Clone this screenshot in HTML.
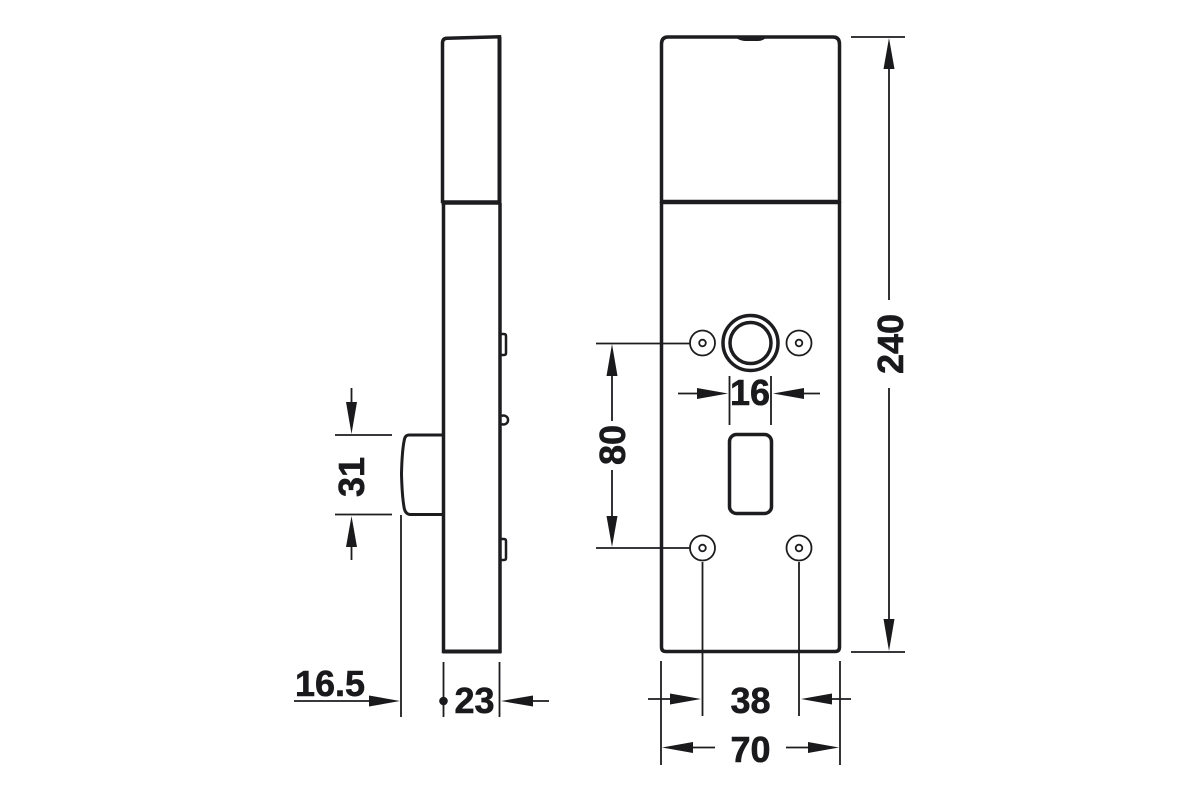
<!DOCTYPE html>
<html><head><meta charset="utf-8"><style>
html,body{margin:0;padding:0;background:#fff}
svg{display:block}
text{font-family:"Liberation Sans",sans-serif;font-weight:bold;font-size:36px;fill:#1a1a1c;stroke:#1a1a1c;stroke-width:.6px;text-anchor:middle}
</style></head><body>
<svg width="1200" height="800" viewBox="0 0 1200 800" xmlns="http://www.w3.org/2000/svg">
<rect width="1200" height="800" fill="#fff"/>
<g fill="none" stroke="#1d1d20" stroke-width="3.500">
<!-- side view -->
<path d="M442.500 203V43Q442.500 38.500 447 38.300L499.500 36.800V203" />
<path d="M499.500 37V203" stroke-width="4"/>
<path d="M441.500 202.500H501" stroke-width="4.500"/>
<path d="M443.500 203V651.500H500V203" />
<path d="M443 651.500H501" stroke-width="4"/>
<path d="M501 334H504Q506 334 506 336V353Q506 355 504 355H501M501 539H504Q506 539 506 541V558Q506 560 504 560H501" stroke-width="2.500"/>
<path d="M501.500 416A4.500 4.500 0 1 1 501.500 424" stroke-width="2.500"/>
<path d="M443 435H409Q405.500 435 404.500 439Q402 450 401.500 474Q402 495 404 507Q405 514 410 514.500H443" stroke-width="3"/>
<!-- front view -->
<path d="M661.500 203V44Q661.500 37 668 37H833Q839.500 37 839.500 44V203"/>
<path d="M661 202H840" stroke-width="4.500"/>
<path d="M661.500 202V647Q661.500 651.500 666 651.500H835Q839.500 651.500 839.500 647V202"/>
<path d="M737 38Q741 40.500 745 40.500H758Q762 40.500 765 38Z" fill="#1d1d20" stroke-width="1"/>
<circle cx="750.500" cy="343" r="27.500" stroke-width="3.500"/>
<circle cx="750.500" cy="343" r="20.500" stroke-width="3.500"/>
<rect x="729.500" y="434.500" width="42" height="79" rx="7" stroke-width="3.500"/>
</g>
<g fill="none" stroke="#1d1d20" stroke-width="1.800">
<circle cx="702.500" cy="343" r="12.500"/>
<circle cx="702.500" cy="343" r="3.300"/>
<circle cx="799" cy="343" r="12.500"/>
<circle cx="799" cy="343" r="3.300"/>
<circle cx="702.500" cy="548" r="12.500"/>
<circle cx="702.500" cy="548" r="3.300"/>
<circle cx="799" cy="548" r="12.500"/>
<circle cx="799" cy="548" r="3.300"/>
<!-- dimension lines -->
<path d="M335 435H392M335 514.500H392M351.500 388V405M351.500 530V560"/>
<path d="M401 515V717M443.500 662V717M499.500 662V717"/>
<path d="M294 701H372M530 701H549"/>
<path d="M596 343.500H690M596 548H690M612 372V421M612 470V520"/>
<path d="M729.500 376V425M771 376V425M678 393.500H700M801 393.500H820"/>
<path d="M702.500 562V716M799 562V716M661 661V765M840 661V765"/>
<path d="M648 699H673M829 699H851M690 747.500H715M786 747.500H811"/>
<path d="M851 37H905M851 652H905M889 66V300M889 388V622"/>
</g>
<g fill="#1a1a1c">
<!-- arrowheads -->
<path d="M351.500 434L346 402H357ZM351.500 516L346 547H357Z"/>
<path d="M400 701L369 695.500V706.500ZM501 701L533 695.500V706.500Z"/>
<circle cx="443.500" cy="701" r="4.300"/>
<path d="M612 344L606.500 376H617.500ZM612 547L606.500 516H617.500Z"/>
<path d="M728 393.500L697 388V399ZM773 393.500L804 388V399Z"/>
<path d="M701 699L670 693.500V704.500ZM801 699L832 693.500V704.500Z"/>
<path d="M662 747.500L693 742V753ZM839 747.500L808 742V753Z"/>
<path d="M889 38L883.500 69H894.500ZM889 651L883.500 619H894.500Z"/>
</g>
<text x="330" y="696">16.5</text>
<text x="474.500" y="713">23</text>
<text x="750.500" y="713">38</text>
<text x="750.500" y="762">70</text>
<text x="750" y="405">16</text>
<text transform="translate(364 477) rotate(-90)">31</text>
<text transform="translate(625 445) rotate(-90)">80</text>
<text transform="translate(903 344) rotate(-90)">240</text>
</svg>
</body></html>
